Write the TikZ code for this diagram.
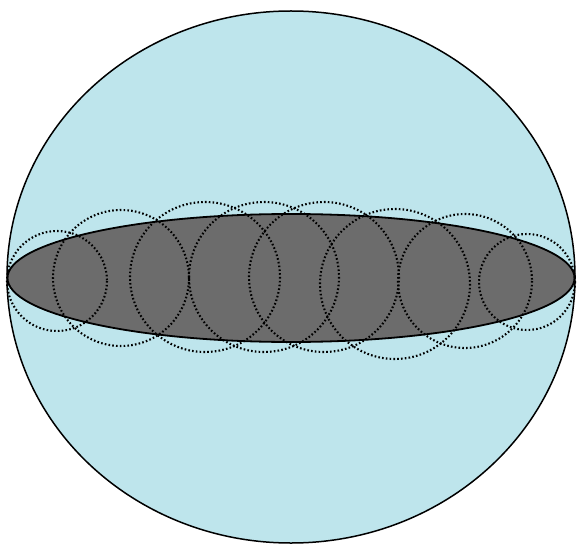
\documentclass[tikz,border=0pt]{standalone}
\usepackage{tikz}
\usetikzlibrary{positioning,calc}
\definecolor{skyfill}{RGB}{190,229,236}
\definecolor{diskfill}{RGB}{108,108,108}

\begin{document}
\begin{tikzpicture}[x=1pt, y=-1pt, line width=1.2pt,
                sphere/.style={draw=black, line width=1.5pt, fill=skyfill},
                disk/.style={draw=black, line width=1.8pt, fill=diskfill},
                blob/.style={draw=black, line width=2.1pt,
                             dash pattern=on 1.6pt off 2.2pt}
            ]
\useasboundingbox (0,0) rectangle (577,545);

% --- centres (pixel grid of the reference, y downwards) ---
                \coordinate (O)  at (291,277);   % big sphere
                \coordinate (D)  at (291,278);   % flat disk in the middle

                \coordinate (C1) at (57,281);    % small end ball, left
                \coordinate (C2) at (121,278);
                \coordinate (C3) at (205,277);
                \coordinate (C4) at (264,277);
                \coordinate (C5) at (324,277);
                \coordinate (C6) at (395,284);
                \coordinate (C7) at (465,281);
                \coordinate (C8) at (527,282);   % small end ball, right

% --- filled shapes ---
                \draw[sphere] (O) ellipse [x radius=284, y radius=266];
                \draw[disk]   (D) ellipse [x radius=283.5, y radius=64];

% --- dotted balls along the axis ---
                \draw[blob] (C1) circle [radius=50];
                \draw[blob] (C2) circle [radius=68];
                \draw[blob] (C3) circle [radius=75];
                \draw[blob] (C4) circle [radius=75];
                \draw[blob] (C5) circle [radius=75];
                \draw[blob] (C6) circle [radius=75];
                \draw[blob] (C7) circle [radius=67];
                \draw[blob] (C8) circle [radius=48];

            \end{tikzpicture}
\end{document}
